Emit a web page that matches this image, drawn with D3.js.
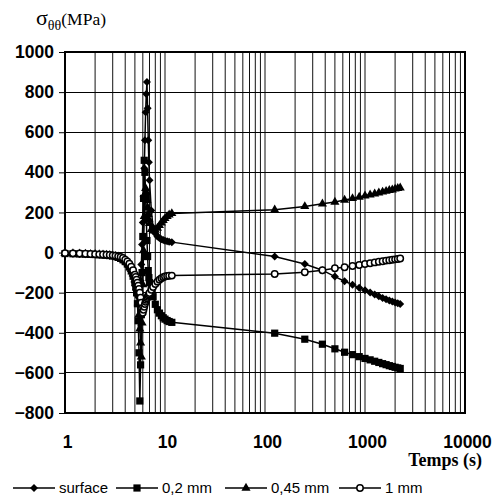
<!DOCTYPE html>
<html>
<head>
<meta charset="utf-8">
<script src="https://cdn.jsdelivr.net/npm/d3@7"></script>
<style>
body { margin: 0; background: #fff; }
</style>
</head>
<body>
<svg id="chart" width="495" height="501"></svg>
<script>
// time (s): dense sampling up to 11.7 s, then every 125 s
var times = [1, 1.2, 1.4, 1.6, 1.8, 2, 2.2, 2.4, 2.6, 2.8, 3, 3.2, 3.4, 3.6, 3.8,
	4, 4.2, 4.4, 4.6, 4.8,
	5, 5.1, 5.2, 5.3, 5.4, 5.5, 5.6, 5.7, 5.8, 5.9, 6, 6.1, 6.2, 6.3, 6.4, 6.5, 6.6, 6.7, 6.8, 6.9, 7,
	7.3, 7.6, 8, 8.4, 8.8, 9.2, 9.6, 10, 10.5, 11, 11.7,
	125, 250, 375, 500, 625, 750, 875, 1000, 1125, 1250, 1375, 1500, 1625, 1750, 1875, 2000, 2125, 2250];

var surface = [-5, -6, -7, -8, -9, -10, -11, -12, -14, -16, -18, -21, -25, -30, -38,
	-48, -60, -75, -95, -120,
	-150, -168, -185, -203, -220, -225, -200, -140, -60, 40, 150, 280, 420, 560, 700, 790, 850, 720, 560, 450, 360,
	210, 125, 95, 80, 72, 66, 62, 59, 56, 54, 52,
	-20, -57, -88, -120, -143, -160, -175, -188, -199, -209, -218, -226, -233, -239, -244, -249, -253, -257];

var mm02 = [-5, -6, -7, -8, -9, -10, -11, -12, -13, -15, -17, -20, -24, -29, -36,
	-45, -57, -72, -92, -118,
	-150, -172, -200, -255, -340, -500, -740, -560, -310, -100, 80, 270, 460, 400, 280, 170, 60, -20, -90, -125, -150,
	-185, -220, -258, -285, -302, -315, -325, -332, -339, -344, -348,
	-402, -432, -457, -480, -497, -509, -519, -528, -535, -542, -548, -554, -559, -564, -568, -572, -575, -578];

var mm045 = [-4, -5, -6, -7, -8, -9, -10, -11, -12, -14, -16, -18, -21, -25, -31,
	-40, -50, -64, -82, -105,
	-135, -152, -175, -205, -250, -310, -380, -450, -520, -350, -160, 10, 180, 270, 320, 300, 260, 225, 190, 165, 145,
	115, 108, 112, 122, 135, 148, 160, 170, 180, 188, 195,
	213, 230, 243, 252, 262, 270, 277, 283, 288, 293, 298, 302, 306, 310, 313, 317, 320, 323];

var mm1 = [-3, -4, -5, -6, -7, -8, -9, -10, -11, -12, -14, -16, -19, -22, -27,
	-35, -44, -56, -70, -88,
	-110, -122, -135, -150, -165, -182, -200, -225, -250, -278, -300, -285, -270, -257, -245, -236, -228, -221, -214, -208, -202,
	-186, -172, -157, -145, -135, -128, -123, -119, -117, -116, -115,
	-107, -98, -88, -78, -73, -67, -62, -57, -53, -49, -46, -43, -40, -38, -36, -34, -32, -30];

var seriesNames = ["surface", "0,2 mm", "0,45 mm", "1 mm"];
var xTicks = [1, 10, 100, 1000, 10000];
var yTicks = [-800, -600, -400, -200, 0, 200, 400, 600, 800, 1000];

var svg = d3.select("#chart");
var plotL = 65, plotR = 465, plotT = 52, plotB = 413;

var x = d3.scaleLog().domain([1, 10000]).range([plotL, plotR]);
var y = d3.scaleLinear().domain([-800, 1000]).range([plotB, plotT]);

// grid
svg.append("g").selectAll("line").data(x.ticks()).join("line")
	.attr("x1", function(d) { return x(d); })
	.attr("x2", function(d) { return x(d); })
	.attr("y1", plotT).attr("y2", plotB)
	.attr("stroke", "#111").attr("stroke-width", 1);

svg.append("g").selectAll("line").data(yTicks).join("line")
	.attr("x1", plotL).attr("x2", plotR)
	.attr("y1", function(d) { return y(d); })
	.attr("y2", function(d) { return y(d); })
	.attr("stroke", "#000").attr("stroke-width", 1)
	.attr("shape-rendering", "crispEdges");

// axes
var yAxis = svg.append("g")
	.attr("transform", "translate(" + plotL + ",0)")
	.call(d3.axisLeft(y).tickValues(yTicks).tickSize(6).tickPadding(5).tickFormat(d3.format("d")));
var xAxis = svg.append("g")
	.attr("transform", "translate(0," + plotB + ")")
	.call(d3.axisBottom(x).tickValues(xTicks).tickSize(0).tickPadding(23).tickFormat(d3.format("d")));

[yAxis, xAxis].forEach(function(g) {
	g.select(".domain").remove();
	g.selectAll("line").attr("stroke", "#000");
	g.selectAll("text")
		.attr("font-family", "'Liberation Sans', Arial, sans-serif")
		.attr("font-weight", "bold")
		.attr("font-size", 17.5)
		.attr("fill", "#000");
});
xAxis.selectAll("text").attr("dx", 2);

svg.append("rect")
	.attr("x", plotL).attr("y", plotT)
	.attr("width", plotR - plotL).attr("height", plotB - plotT)
	.attr("fill", "none").attr("stroke", "#000").attr("stroke-width", 2);

// markers
var diamond = d3.symbol(d3.symbolSquare, 32);
var square = d3.symbol(d3.symbolSquare, 52);
var triangle = d3.symbol(d3.symbolTriangle, 36);

function drawMarker(g, kind, cx, cy) {
	if (kind === 3) {
		g.append("circle").attr("cx", cx).attr("cy", cy).attr("r", 3.2)
			.attr("fill", "#fff").attr("stroke", "#000").attr("stroke-width", 1.5);
	} else {
		var p = kind === 0 ? diamond() : kind === 1 ? square() : triangle();
		g.append("path").attr("d", p)
			.attr("transform", "translate(" + cx + "," + cy + ")" + (kind === 0 ? " rotate(45)" : ""))
			.attr("fill", "#000");
	}
}

var allSeries = [surface, mm02, mm045, mm1];
var line = d3.line()
	.x(function(d) { return x(d[0]); })
	.y(function(d) { return y(d[1]); });

allSeries.forEach(function(vals, k) {
	var pts = times.map(function(t, i) { return [t, vals[i]]; });
	var g = svg.append("g");
	g.append("path").attr("d", line(pts))
		.attr("fill", "none").attr("stroke", "#000").attr("stroke-width", 1.5);
	pts.forEach(function(p) { drawMarker(g, k, x(p[0]), y(p[1])); });
});

// titles
var yt = svg.append("text")
	.attr("x", 36).attr("y", 25)
	.attr("font-family", "'Liberation Serif', 'Times New Roman', serif")
	.attr("font-size", 17.5).attr("fill", "#000");
yt.append("tspan").attr("font-size", 22).text("σ");
yt.append("tspan").attr("dy", 5).attr("font-size", 14).text("θθ");
yt.append("tspan").attr("dy", -5).text("(MPa)");

svg.append("text")
	.attr("x", 482).attr("y", 466)
	.attr("text-anchor", "end")
	.attr("font-family", "'Liberation Serif', 'Times New Roman', serif")
	.attr("font-weight", "bold")
	.attr("font-size", 18).attr("fill", "#000")
	.text("Temps (s)");

// legend
var legendX = [13, 116, 225, 339];
var ly = 488;
seriesNames.forEach(function(name, k) {
	var g = svg.append("g");
	g.append("line").attr("x1", legendX[k]).attr("x2", legendX[k] + 42)
		.attr("y1", ly).attr("y2", ly)
		.attr("stroke", "#000").attr("stroke-width", 1.5);
	drawMarker(g, k, legendX[k] + 21, ly);
	g.append("text")
		.attr("x", legendX[k] + 46).attr("y", ly + 5)
		.attr("font-family", "'Liberation Sans', Arial, sans-serif")
		.attr("font-size", 15).attr("fill", "#000")
		.text(name);
});
</script>
</body>
</html>
